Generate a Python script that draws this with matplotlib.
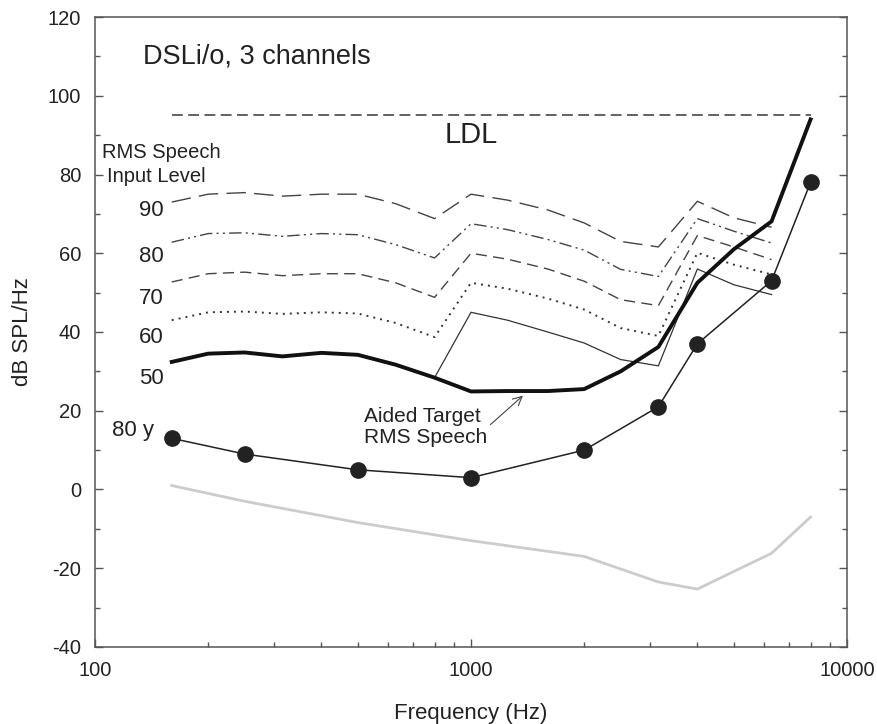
import matplotlib
matplotlib.use("Agg")
import matplotlib.pyplot as plt
from matplotlib.ticker import FixedLocator, NullFormatter

plt.rcParams['font.family'] = ['Liberation Sans', 'DejaVu Sans']
plt.rcParams['axes.unicode_minus'] = False

# third-octave centre frequencies used by the prescription curves
freqs = [160, 200, 250, 315, 400, 500, 630, 800, 1000, 1250, 1600,
         2000, 2500, 3150, 4000, 5000, 6300]

# aided output for each RMS speech input level (dB SPL/Hz)
level_90 = [73, 75, 75.4, 74.5, 75, 75, 72.6, 68.8, 75, 73.5, 71,
            67.7, 63, 61.6, 73.2, 69, 66.6]
level_80 = [62.8, 65, 65.2, 64.3, 65, 64.7, 62.2, 58.8, 67.5, 66, 63.5,
            60.8, 55.9, 54.1, 68.8, 65.6, 62.6]
level_70 = [52.7, 54.8, 55.2, 54.3, 54.8, 54.8, 52.5, 48.8, 60, 58.5, 56,
            52.9, 48.2, 46.7, 64.5, 61.6, 58.4]
level_60 = [43, 45, 45.2, 44.6, 45, 44.7, 42.3, 38.7, 52.5, 51, 48.5,
            45.7, 41, 39, 60.1, 57.1, 54.6]

# 50 dB input / aided target, runs out to 8 kHz
target_freqs = freqs + [8000]
target_50 = [32.4, 34.5, 34.8, 33.8, 34.7, 34.2, 31.7, 28.4, 24.9, 25, 25,
             25.5, 30, 36.2, 52.5, 61, 68.1, 94]

# thin solid curve above 800 Hz
upper_freqs = [800, 1000, 1250, 1600, 2000, 2500, 3150, 4000, 5000, 6300]
upper_50 = [28.4, 45, 43, 40, 37.2, 33, 31.4, 56, 52, 49.5]

# hearing thresholds (80 year old) and normal thresholds
audio_freqs = [160, 250, 500, 1000, 2000, 3150, 4000, 6300, 8000]
thresh_80y = [13, 9, 5, 3, 10, 21, 37, 53, 78]
thresh_normal = [1, -3, -8.4, -13, -17, -23.5, -25.3, -16.2, -7]

# loudness discomfort level
ldl_freqs = [160, 8000]
ldl_level = [95, 95]

level_names = ['90', '80', '70', '60', '50']
level_label_y = [70.9, 59.2, 48.5, 38.5, 28.1]

fig = plt.figure(figsize=(8.78, 7.24), dpi=100)
ax = fig.add_axes([0.1082, 0.1064, 0.8565, 0.8701])

ax.plot(freqs, level_90, color='#444', lw=1.0, dashes=(14, 6))
ax.plot(freqs, level_80, color='#444', lw=1.0, dashes=(9, 3, 1.5, 3, 1.5, 3))
ax.plot(freqs, level_70, color='#444', lw=1.0, dashes=(8, 4.5))
ax.plot(freqs, level_60, color='#333', lw=1.4, dashes=(1, 2.6))
ax.plot(upper_freqs, upper_50, color='#333', lw=0.9)
ax.plot(target_freqs, target_50, color='#111', lw=2.8)
ax.plot(ldl_freqs, ldl_level, color='#555', lw=1.3, dashes=(6, 3))
ax.plot(audio_freqs, thresh_normal, color='#cccccc', lw=2.0)
ax.plot(audio_freqs, thresh_80y, color='#222', lw=1.1, marker='o',
        markersize=11, markerfacecolor='#222', markeredgecolor='#222')

ax.set_xscale('log')
ax.set_xlim(100, 10000)
ax.set_ylim(-40, 120)

ax.set_xticks([100, 1000, 10000])
ax.set_xticklabels(['100', '1000', '10000'])
ax.xaxis.set_minor_formatter(NullFormatter())
ax.set_yticks(range(-40, 121, 20))
ax.yaxis.set_minor_locator(FixedLocator(range(-30, 120, 20)))

ax.tick_params(which='both', direction='in', right=True, top=False,
               color='#555', labelcolor='#222', labelsize=14.5)
ax.tick_params(which='major', length=6, width=1.0, pad=10)
ax.tick_params(which='minor', length=3.6, width=1.0)
for sp in ax.spines.values():
    sp.set_color('#555')
    sp.set_linewidth(1.1)

ax.set_xlabel('Frequency (Hz)', fontsize=16, color='#222')
ax.set_ylabel('dB SPL/Hz', fontsize=16, color='#222')
ax.xaxis.set_label_coords(0.5, -0.089)
ax.yaxis.set_label_coords(-0.082, 0.5)

ax.text(134, 110, 'DSLi/o, 3 channels', fontsize=19.5, color='#222',
        ha='left', va='center')
ax.text(1000, 90, 'LDL', fontsize=21, color='#222', ha='center', va='center')
ax.text(104.4, 85.6, 'RMS Speech', fontsize=14.5, color='#222',
        ha='left', va='center')
ax.text(107.6, 79.6, 'Input Level', fontsize=14.5, color='#222',
        ha='left', va='center')
for name, y in zip(level_names, level_label_y):
    ax.text(152, y, name, fontsize=16, color='#222', ha='right', va='center')
ax.text(111, 15, '80 y', fontsize=16, color='#222', ha='left', va='center')
ax.text(519, 18.5, 'Aided Target', fontsize=15, color='#222',
        ha='left', va='center')
ax.text(519, 13.1, 'RMS Speech', fontsize=15, color='#222',
        ha='left', va='center')
ax.annotate('', xy=(1392, 24.3), xytext=(1112, 16),
            arrowprops=dict(arrowstyle='->', lw=0.8, color='#444',
                            mutation_scale=16))

fig.savefig('out.png', dpi=100)
